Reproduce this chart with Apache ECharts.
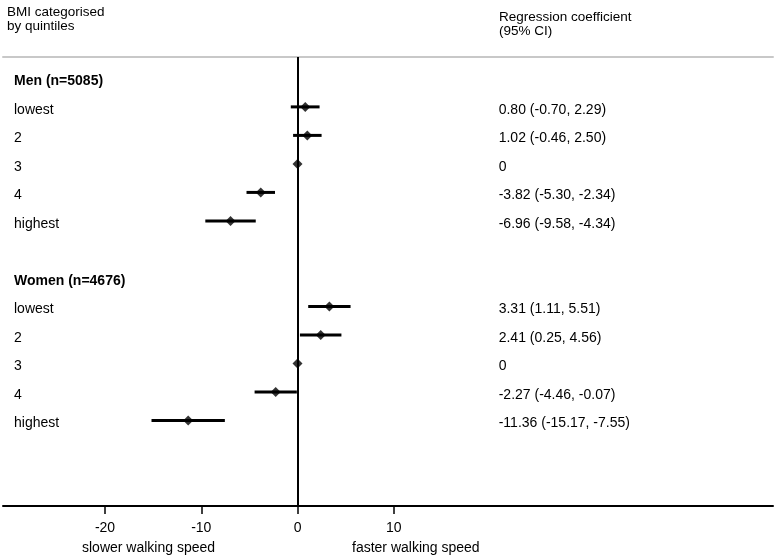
<!DOCTYPE html>
<html>
<head>
<meta charset="utf-8">
<script src="https://cdn.jsdelivr.net/npm/echarts@6/dist/echarts.min.js"></script>
<style>html,body{margin:0;padding:0;background:#fff;}#c{width:777px;height:560px;}</style>
</head>
<body>
<div id="c"></div>
<script>
const groups = ['Men (n=5085)', 'Women (n=4676)'];
const quintiles = ['lowest', '2', '3', '4', 'highest'];
const menEst = [0.80, 1.02, 0, -3.82, -6.96];
const menLo = [-0.70, -0.46, 0, -5.30, -9.58];
const menHi = [2.29, 2.50, 0, -2.34, -4.34];
const womenEst = [3.31, 2.41, 0, -2.27, -11.36];
const womenLo = [1.11, 0.25, 0, -4.46, -15.17];
const womenHi = [5.51, 4.56, 0, -0.07, -7.55];
const xTicks = [-20, -10, 0, 10];
const headLeft = 'BMI categorised\nby quintiles';
const headRight = 'Regression coefficient\n(95% CI)';
const footLeft = 'slower walking speed';
const footRight = 'faster walking speed';

const FONT = '"Liberation Sans", Arial, Helvetica, sans-serif';
const X_MIN = -30.6, X_MAX = 49.4, TEXT_X = 20.9;

// build rows
const groupData = [[menEst, menLo, menHi], [womenEst, womenLo, womenHi]];
const ciRows = [], estRows = [], leftText = [], rightText = [];
groups.forEach((g, gi) => {
  const base = gi * 7;
  leftText.push([X_MIN, base, g, 1]);
  const [est, lo, hi] = groupData[gi];
  quintiles.forEach((q, qi) => {
    const row = base + 1 + qi;
    leftText.push([X_MIN, row, q, 0]);
    estRows.push([est[qi], row]);
    if (lo[qi] !== hi[qi]) ciRows.push([lo[qi], hi[qi], row]);
    const txt = (est[qi] === 0 && lo[qi] === 0 && hi[qi] === 0) ? '0' :
      est[qi].toFixed(2) + ' (' + lo[qi].toFixed(2) + ', ' + hi[qi].toFixed(2) + ')';
    rightText.push([TEXT_X, row, txt, 0]);
  });
});
const textData = { lt: leftText, rt: rightText };

const chart = echarts.init(document.getElementById('c'));
function textItem(offX) {
  return function (params, api) {
    const p = api.coord([api.value(0), api.value(1)]);
    const rec = textData[params.seriesId][params.dataIndex];
    return {
      type: 'text',
      x: p[0] + offX, y: p[1] + 3,
      style: {
        text: rec[2],
        fontFamily: FONT, fontSize: 14,
        fontWeight: rec[3] ? 'bold' : 'normal',
        fill: '#000', align: 'left', verticalAlign: 'middle'
      }
    };
  };
}
const hs = { fontFamily: FONT, fontSize: 13.5, fontWeight: 'normal', color: '#000', lineHeight: 14 };
const fs = { fontFamily: FONT, fontSize: 14, fontWeight: 'normal', color: '#000', lineHeight: 14 };

chart.setOption({
  animation: false,
  backgroundColor: '#fff',
  title: [
    { text: headLeft, left: 7, top: 5, padding: 0, textStyle: hs },
    { text: headRight, left: 499, top: 10, padding: 0, textStyle: hs },
    { text: footLeft, left: 82, top: 541, padding: 0, textStyle: fs },
    { text: footRight, left: 352, top: 541, padding: 0, textStyle: fs }
  ],
  grid: { left: 3, right: 4, top: 57, bottom: 54 },
  xAxis: [
    {
      type: 'value', min: X_MIN, max: X_MAX, position: 'bottom',
      axisLine: { show: true, onZero: false, lineStyle: { color: '#000', width: 2 } },
      axisTick: { show: true, length: 8, customValues: xTicks, lineStyle: { color: '#000', width: 1.5 } },
      axisLabel: { show: true, customValues: xTicks, margin: 15, color: '#000', fontSize: 14, fontFamily: FONT },
      splitLine: { show: false }
    },
    {
      type: 'value', min: X_MIN, max: X_MAX, position: 'top',
      axisLine: { show: true, onZero: false, lineStyle: { color: '#c8c8c8', width: 2 } },
      axisTick: { show: false }, axisLabel: { show: false }, splitLine: { show: false }
    }
  ],
  yAxis: { type: 'value', inverse: true, min: -0.75, max: 15, show: false, splitLine: { show: false } },
  series: [
    {
      type: 'custom', id: 'ci', data: ciRows, encode: { x: [0, 1], y: 2 },
      renderItem: function (params, api) {
        const p1 = api.coord([api.value(0), api.value(2)]);
        const p2 = api.coord([api.value(1), api.value(2)]);
        return { type: 'line', shape: { x1: p1[0], y1: p1[1], x2: p2[0], y2: p2[1] }, style: { stroke: '#000', lineWidth: 3 } };
      },
      z: 3
    },
    {
      type: 'scatter', data: estRows, symbol: 'diamond', symbolSize: [10, 10],
      itemStyle: { color: '#000' }, z: 4,
      markLine: {
        silent: true, symbol: 'none', label: { show: false },
        lineStyle: { color: '#000', width: 2, type: 'solid' },
        data: [{ xAxis: 0 }]
      }
    },
    { type: 'custom', id: 'lt', data: leftText, encode: { x: 0, y: 1 }, renderItem: textItem(11) },
    { type: 'custom', id: 'rt', data: rightText, encode: { x: 0, y: 1 }, renderItem: textItem(0) }
  ]
});
</script>
</body>
</html>
